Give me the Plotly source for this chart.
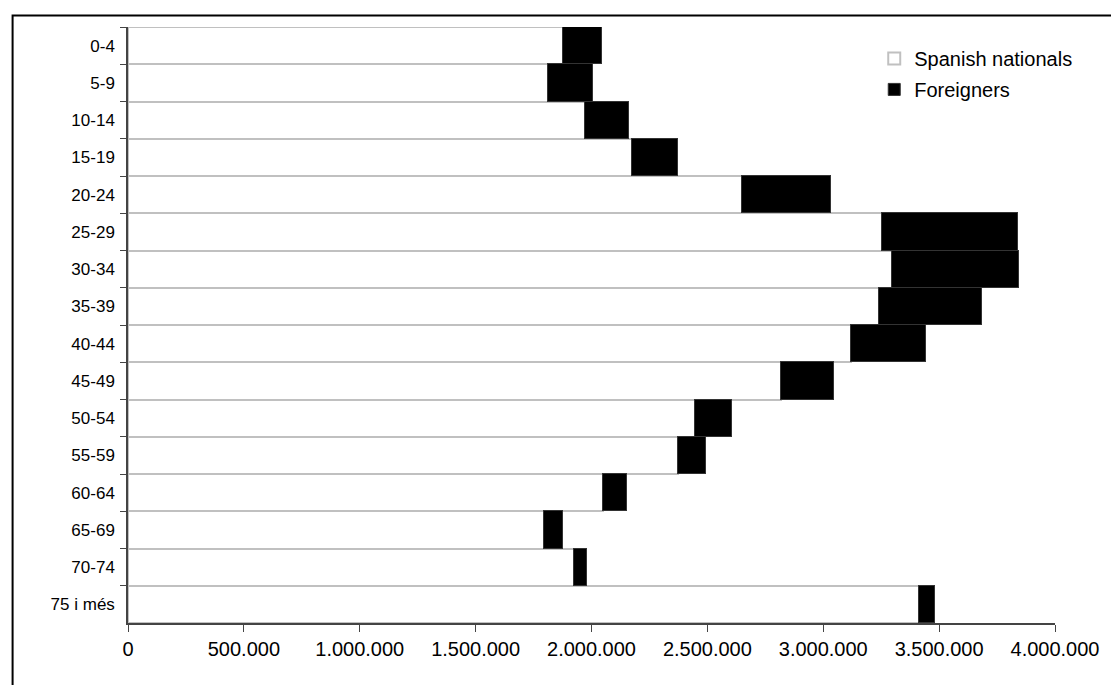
import plotly.graph_objects as go

age_groups = ["0-4", "5-9", "10-14", "15-19", "20-24", "25-29", "30-34", "35-39",
              "40-44", "45-49", "50-54", "55-59", "60-64", "65-69", "70-74", "75 i més"]
spanish_nationals = [1878700, 1814100, 1973400, 2175800, 2649500, 3252300, 3295400, 3239400,
                     3118800, 2819600, 2447100, 2373900, 2051000, 1795200, 1926100, 3415100]
foreigners = [168000, 193800, 189500, 198100, 383200, 589900, 551100, 443500,
              323000, 228200, 157200, 120600, 103300, 82700, 56000, 65000]
x_tick_values = [0, 500000, 1000000, 1500000, 2000000, 2500000, 3000000, 3500000, 4000000]

FONT = "Liberation Sans, Arial, sans-serif"

fig = go.Figure()
fig.add_trace(go.Bar(
    y=age_groups, x=spanish_nationals, orientation="h", name="Spanish nationals",
    legendgroup="a",
    marker=dict(color="white", line=dict(color="#c0c0c0", width=2)),
))
fig.add_trace(go.Bar(
    y=age_groups, x=foreigners, orientation="h", name="Foreigners",
    legendgroup="b",
    marker=dict(color="black", line=dict(color="#333333", width=1)),
))

# page body has an 8px margin; figure is sized/offset accordingly
fig.update_layout(
    width=1103, height=677,
    margin=dict(l=119.7, r=54.3, t=18.7, b=62.3, pad=0),
    barmode="stack", bargap=0,
    paper_bgcolor="white", plot_bgcolor="white",
    separators=",.",
    font=dict(family=FONT, color="black"),
    showlegend=True,
    legend=dict(x=0.805, y=0.98, xanchor="left", yanchor="top",
                traceorder="grouped", tracegroupgap=2,
                font=dict(size=20, family=FONT),
                bgcolor="rgba(0,0,0,0)", borderwidth=0),
    shapes=[dict(type="rect", xref="paper", yref="paper",
                 x0=-0.1245, x1=1.2, y0=-0.3, y1=1.0191,
                 line=dict(color="black", width=2), layer="below")],
)
fig.update_xaxes(
    range=[0, 4000000], tickvals=x_tick_values, tickformat=",.0f",
    showgrid=False, zeroline=False,
    showline=True, linecolor="#444444", linewidth=1.5,
    ticks="outside", ticklen=7, tickwidth=1, tickcolor="#444444",
    tickfont=dict(size=20, family=FONT, color="black"),
)
fig.update_yaxes(
    type="category", categoryorder="array", categoryarray=age_groups,
    autorange="reversed", tickson="boundaries",
    showgrid=False, zeroline=False,
    showline=True, linecolor="#444444", linewidth=1.5,
    ticks="outside", ticklen=6, tickwidth=1, tickcolor="#444444",
    ticklabelstandoff=8,
    tickfont=dict(size=17, family=FONT, color="black"),
)

fig.write_html("out.html")
